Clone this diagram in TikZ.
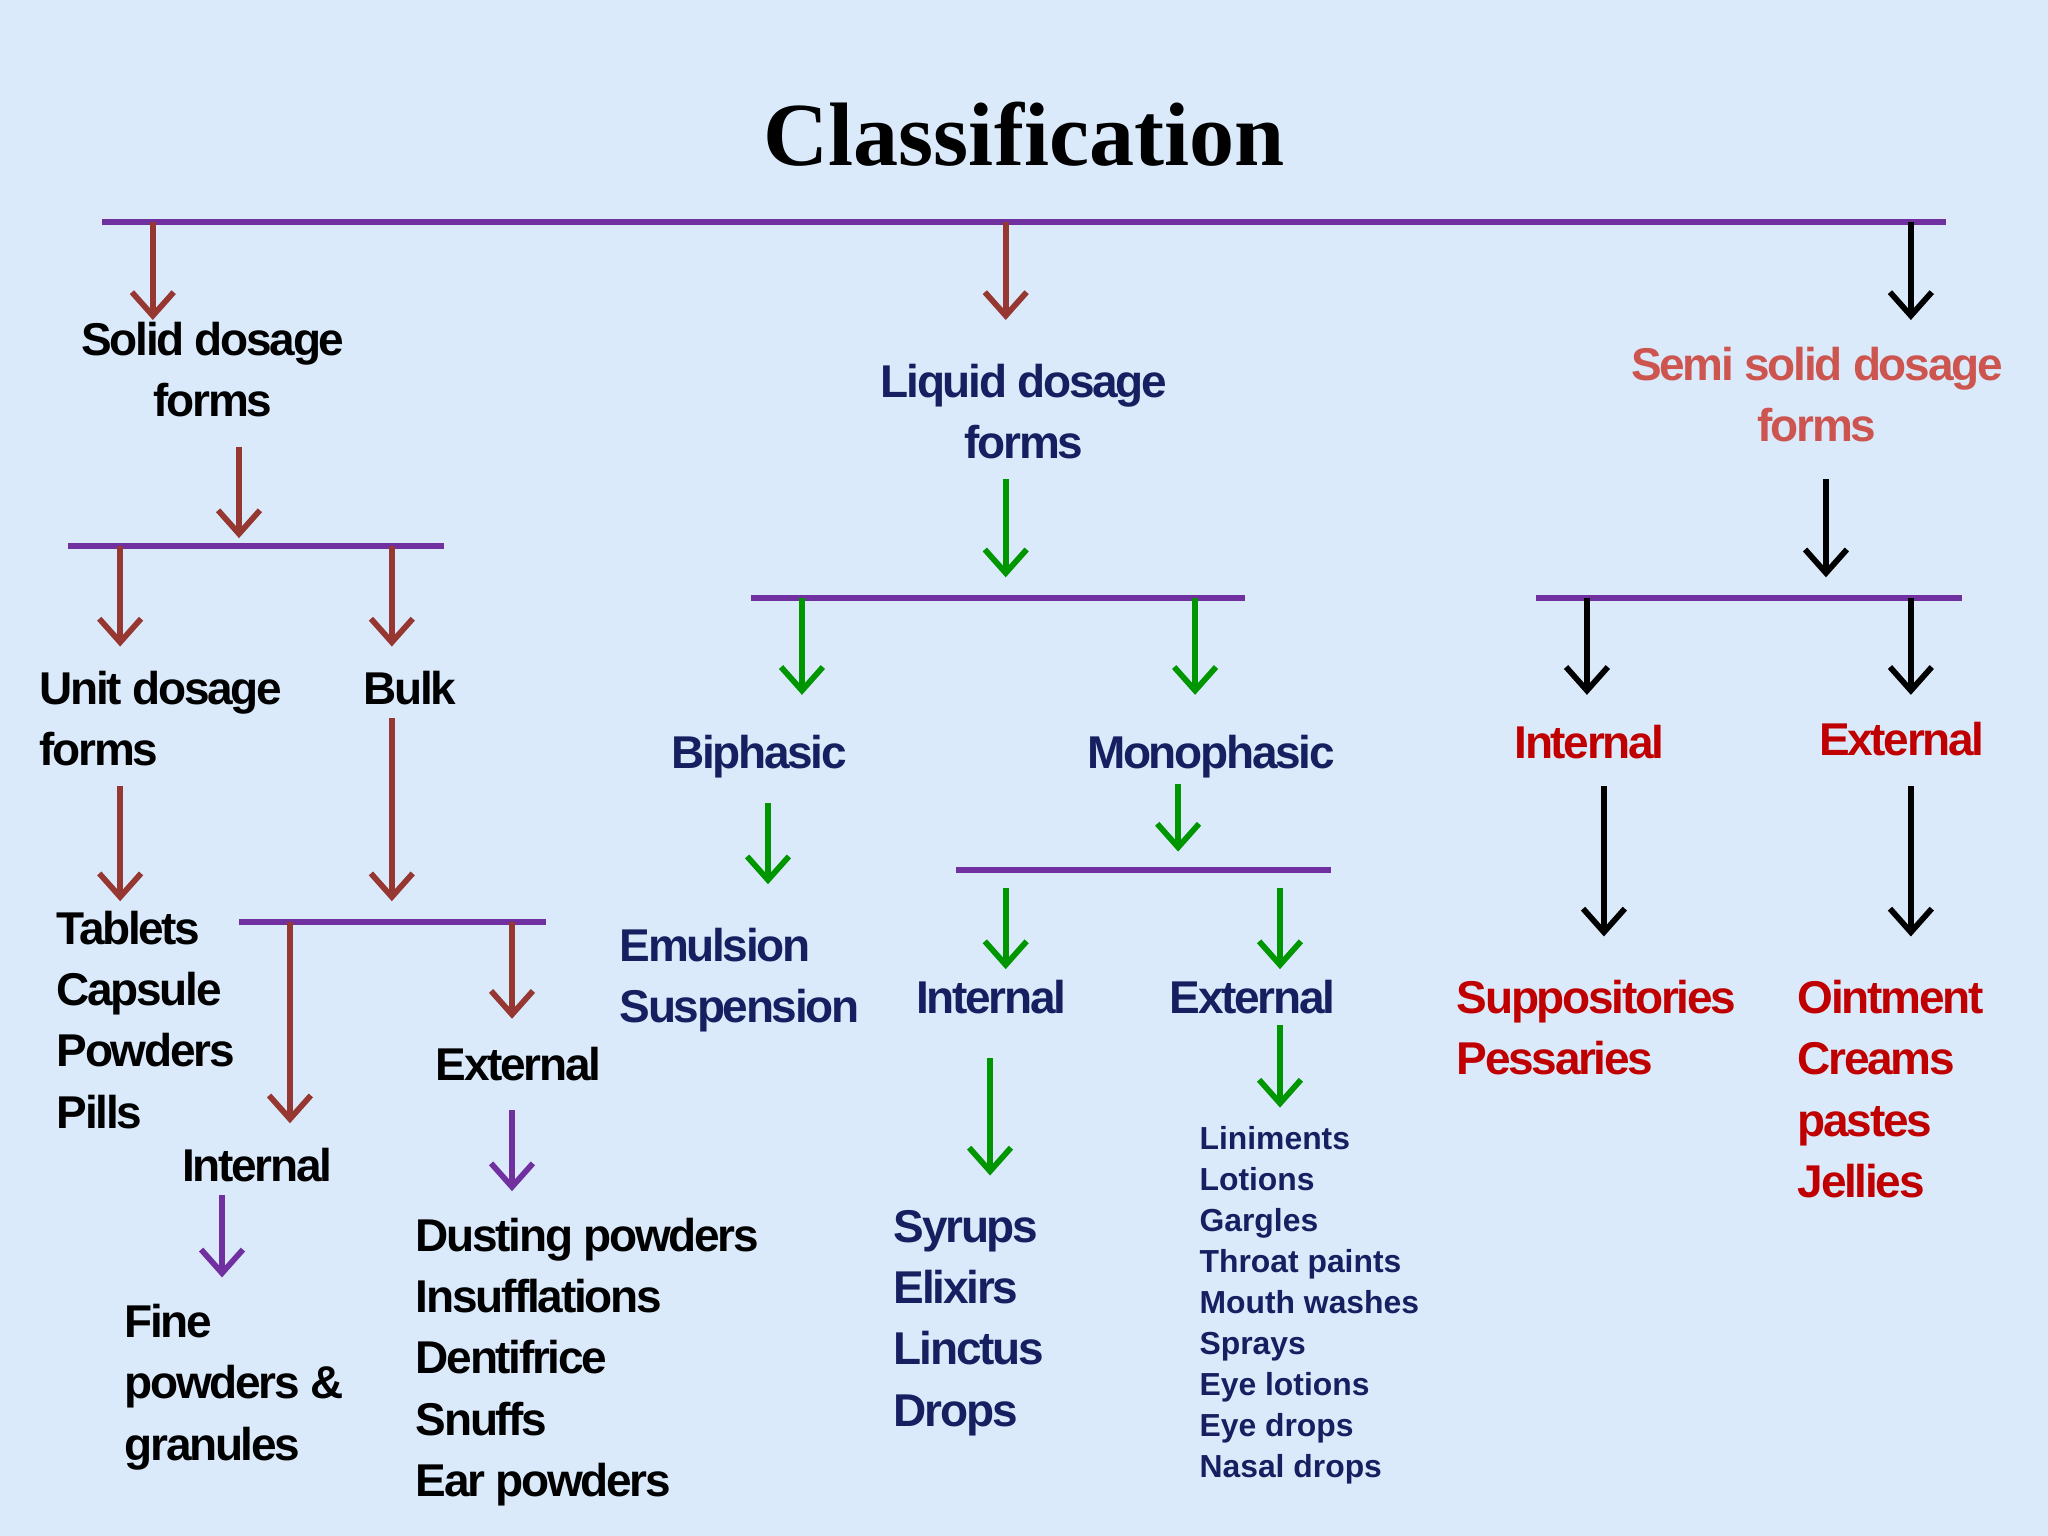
\documentclass[tikz,border=0pt]{standalone}
\usepackage{fontspec}
\setmainfont{Liberation Sans}
\newfontfamily\titlefont{Liberation Serif}
\usetikzlibrary{arrows.meta}
\definecolor{bg}{RGB}{219,234,251}
\definecolor{bar}{RGB}{112,48,160}
\definecolor{brn}{RGB}{150,55,50}
\definecolor{grn}{RGB}{0,150,0}
\definecolor{navy}{RGB}{22,32,96}
\definecolor{rd}{RGB}{192,0,0}
\definecolor{semi}{RGB}{205,85,80}
\definecolor{prp}{RGB}{112,48,160}
\begin{document}
\begin{tikzpicture}[x=0.5pt,y=-0.5pt,
  bar/.style={draw=bar,line width=2.5pt},
  arr/.style={line width=2.2pt,-{Straight Barb[length=9pt,width=16pt,line width=2.2pt]}},
  big/.style={font=\fontsize{17.6}{23.5}\selectfont\bfseries\addfontfeatures{LetterSpace=-5},inner sep=0pt},
  lbl/.style={big,align=center},
  lst/.style={big,align=left,anchor=north west},
  sml/.style={font=\fontsize{12.2}{15.7}\selectfont\bfseries,inner sep=0pt,align=left,anchor=north west,text=navy}]
\fill[bg] (0,0) rectangle (1568,1176);
\node[font=\titlefont\fontsize{34.5}{38}\selectfont\bfseries] (title) at (784,103) {Classification};
% top level
\draw[bar] (78,170) -- (1490,170);
\draw[arr,brn] (117,170) -- (117,245);
\draw[arr,brn] (770,170) -- (770,245);
\draw[arr,black] (1463,170) -- (1463,245);
% solid
\node[lbl] (solid) at (163,283) {Solid dosage\\forms};
\draw[arr,brn] (183,342) -- (183,412);
\draw[bar] (52,418) -- (340,418);
\draw[arr,brn] (92,418) -- (92,495);
\draw[arr,brn] (300,418) -- (300,495);
\node[lbl,align=left,anchor=west] (unit) at (30,550) {Unit dosage\\forms};
\node[lbl] (bulk) at (314,527) {Bulk};
\draw[arr,brn] (92,602) -- (92,690);
\draw[arr,brn] (300,550) -- (300,690);
\node[lst] (tab) at (43,697) {Tablets\\Capsule\\Powders\\Pills};
\draw[bar] (183,706) -- (418,706);
\draw[arr,brn] (222,706) -- (222,860);
\draw[arr,brn] (392,706) -- (392,780);
\node[lbl] (sext) at (397,815) {External};
\node[lbl] (sint) at (197,892) {Internal};
\draw[arr,prp] (392,850) -- (392,912);
\draw[arr,prp] (170,915) -- (170,978);
\node[lst] (fine) at (95,998) {Fine\\powders \&\\granules};
\node[lst] (dust) at (318,932) {Dusting powders\\Insufflations\\Dentifrice\\Snuffs\\Ear powders};
% liquid
\node[lbl,text=navy] (liq) at (784,315) {Liquid dosage\\forms};
\draw[arr,grn] (770,367) -- (770,442);
\draw[bar] (575,458) -- (953,458);
\draw[arr,grn] (614,458) -- (614,532);
\draw[arr,grn] (915,458) -- (915,532);
\node[lbl,text=navy] (bi) at (581,579) {Biphasic};
\node[lbl,text=navy] (mono) at (927,579) {Monophasic};
\draw[arr,grn] (588,615) -- (588,677);
\draw[arr,grn] (902,600) -- (902,652);
\node[lst,text=navy] (emu) at (474,710) {Emulsion\\Suspension};
\draw[bar] (732,666) -- (1019,666);
\draw[arr,grn] (770,680) -- (770,742);
\draw[arr,grn] (980,680) -- (980,742);
\node[lbl,text=navy] (lint) at (759,763) {Internal};
\node[lbl,text=navy] (lext) at (959,763) {External};
\draw[arr,grn] (758,810) -- (758,900);
\draw[arr,grn] (980,785) -- (980,848);
\node[lst,text=navy] (syr) at (684,926) {Syrups\\Elixirs\\Linctus\\Drops};
\node[sml] (lin) at (918,862) {Liniments\\Lotions\\Gargles\\Throat paints\\Mouth washes\\Sprays\\Eye lotions\\Eye drops\\Nasal drops};
% semi solid
\node[lbl,text=semi] (semi) at (1391,302) {Semi solid dosage\\forms};
\draw[arr,black] (1398,367) -- (1398,442);
\draw[bar] (1176,458) -- (1502,458);
\draw[arr,black] (1215,458) -- (1215,532);
\draw[arr,black] (1463,458) -- (1463,532);
\node[lbl,text=rd] (sint2) at (1217,568) {Internal};
\node[lbl,text=rd] (sext2) at (1456,566) {External};
\draw[arr,black] (1228,602) -- (1228,717);
\draw[arr,black] (1463,602) -- (1463,717);
\node[lst,text=rd] (sup) at (1115,750) {Suppositories\\Pessaries};
\node[lst,text=rd] (oin) at (1376,750) {Ointment\\Creams\\pastes\\Jellies};
\end{tikzpicture}
\end{document}
